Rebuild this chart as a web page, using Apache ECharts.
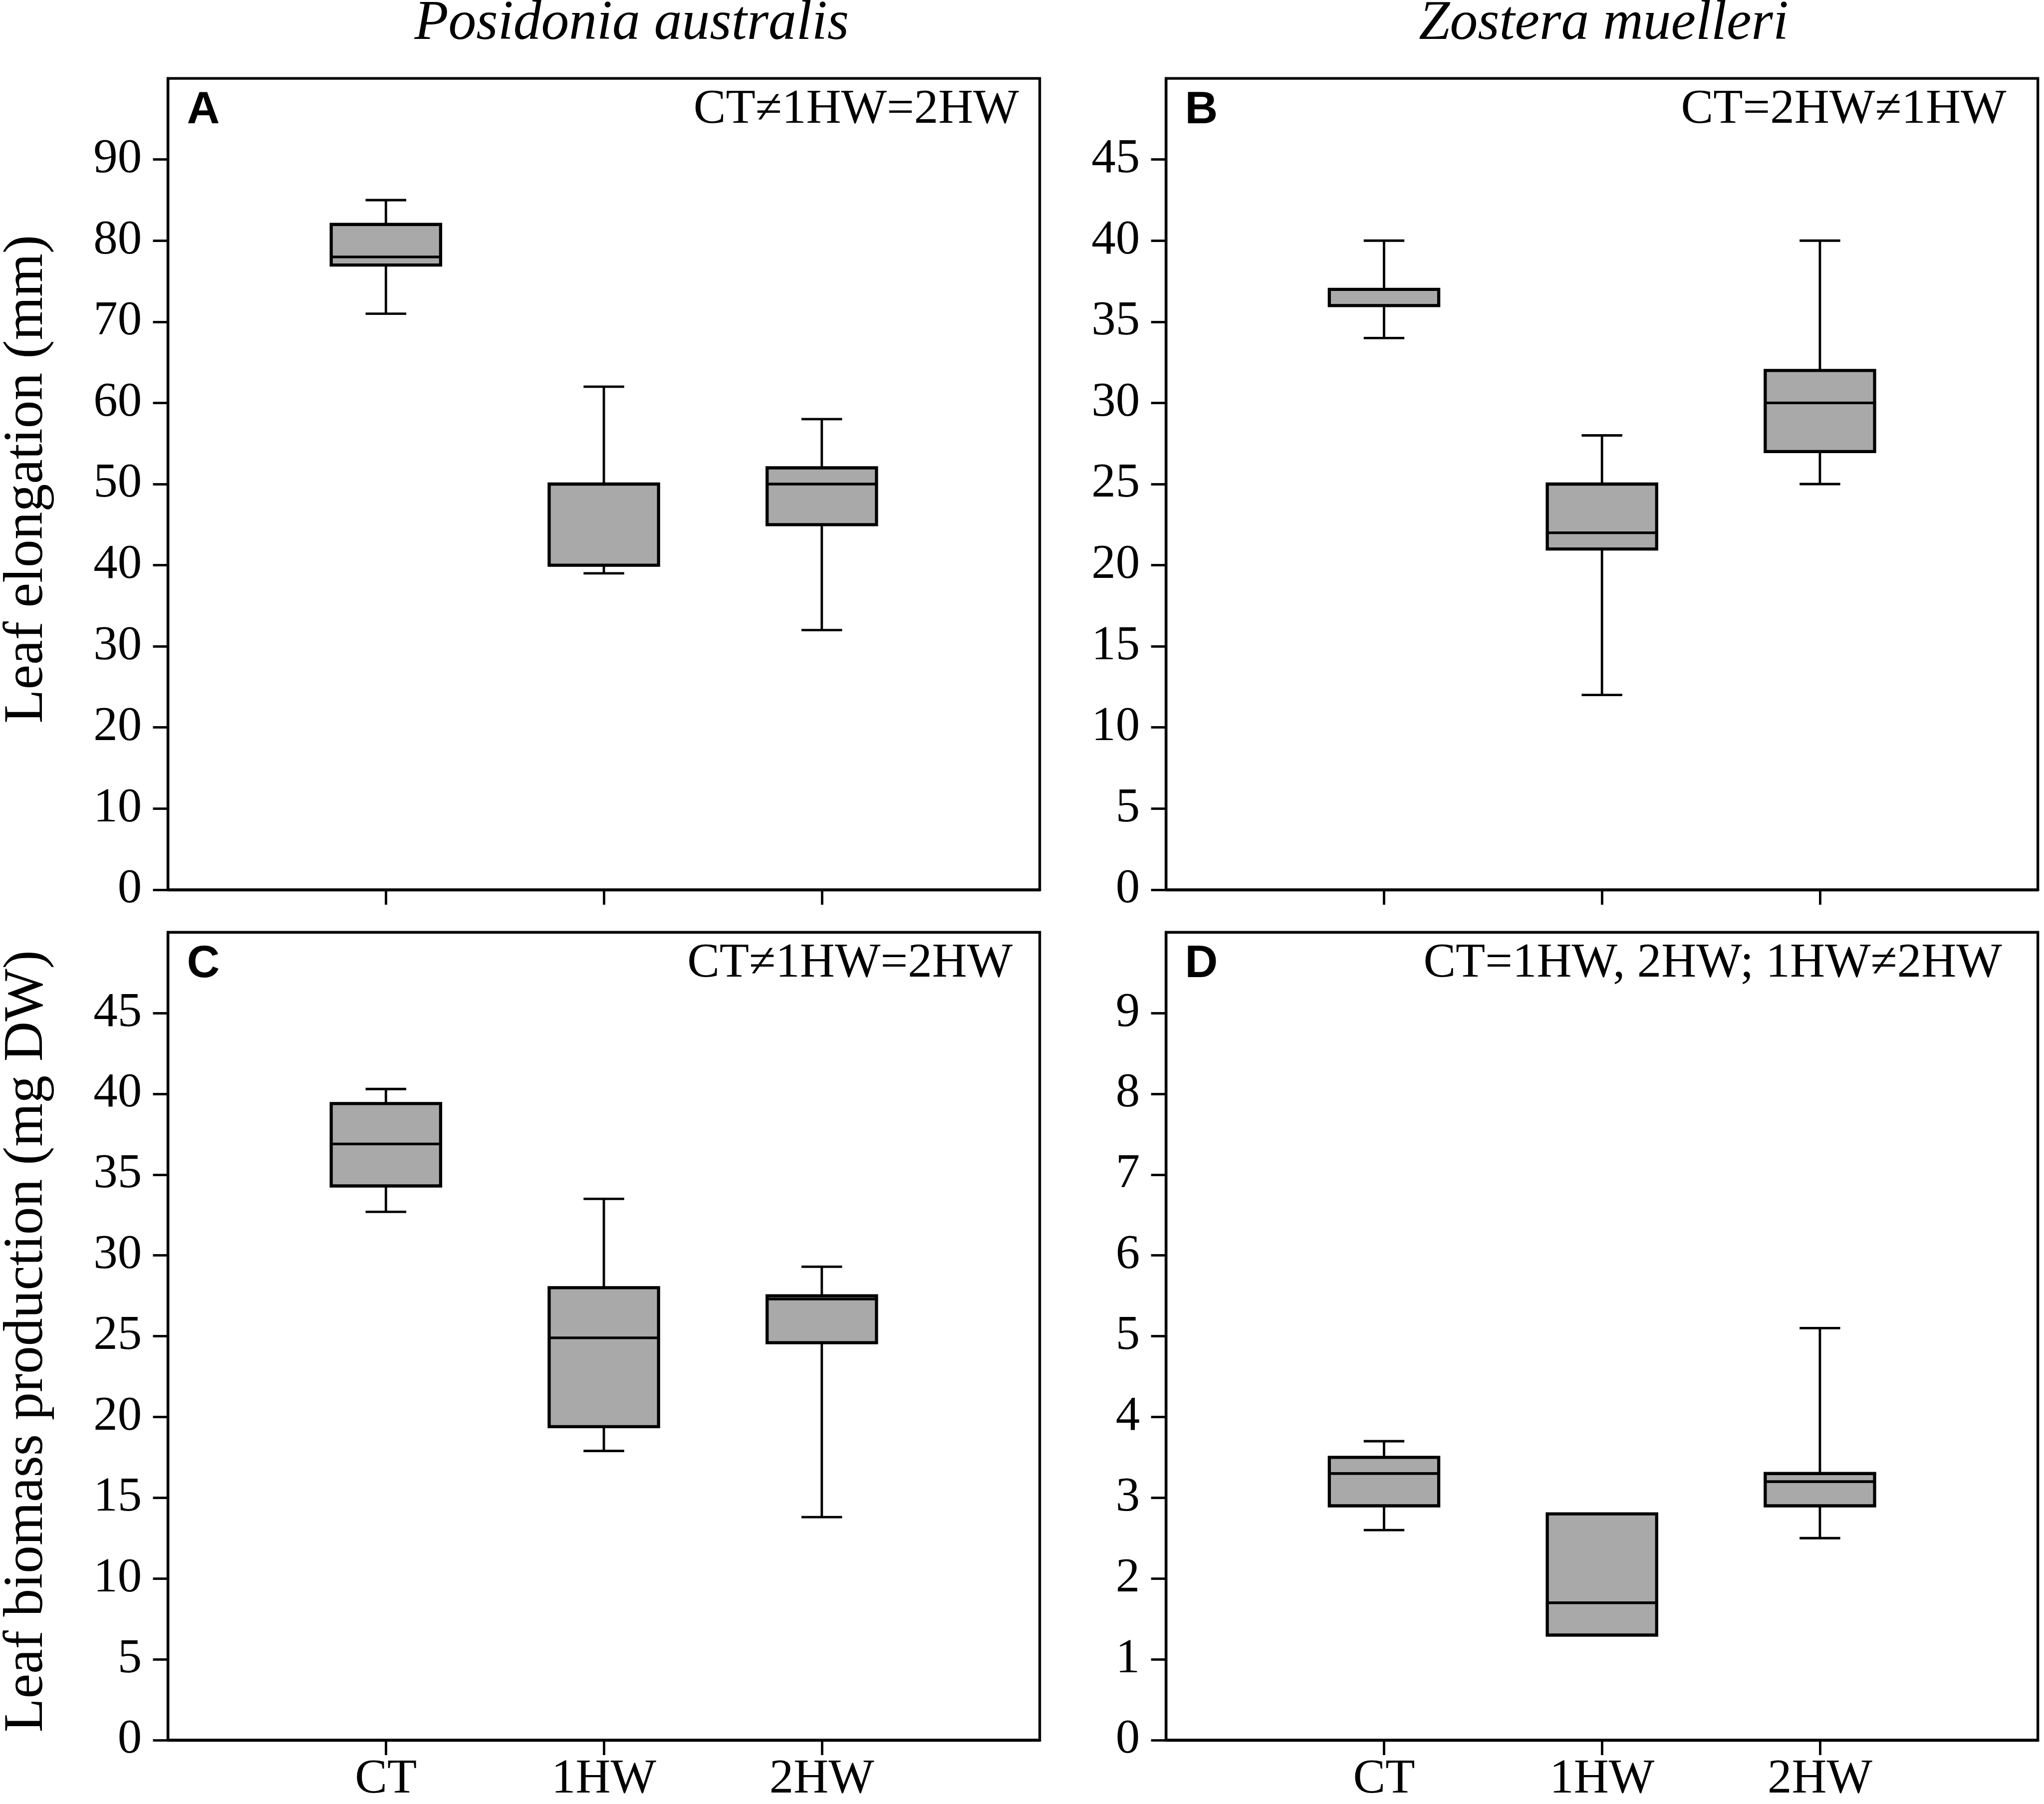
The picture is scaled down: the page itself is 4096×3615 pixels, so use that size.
<!DOCTYPE html>
<html>
<head>
<meta charset="utf-8">
<script src="https://cdn.jsdelivr.net/npm/echarts@6/dist/echarts.min.js"></script>
<style>
html,body{margin:0;padding:0;background:#fff;}
#chart{width:4096px;height:3615px;}
</style>
</head>
<body>
<div id="chart"></div>
<script>
// ---- data ----
const categories = ['CT', '1HW', '2HW'];
// [min, Q1, median, Q3, max]
const elongPosidonia = [[71, 77, 78, 82, 85], [39, 40, 40, 50, 62], [32, 45, 50, 52, 58]];
const elongZostera = [[34, 36, 36, 37, 40], [12, 21, 22, 25, 28], [25, 27, 30, 32, 40]];
const biomassPosidonia = [[32.7, 34.3, 36.9, 39.4, 40.3], [17.9, 19.4, 24.9, 28.0, 33.5], [13.8, 24.6, 27.3, 27.5, 29.3]];
const biomassZostera = [[2.6, 2.9, 3.3, 3.5, 3.7], [1.3, 1.3, 1.7, 2.8, 2.8], [2.5, 2.9, 3.2, 3.3, 5.1]];
const yTicksA = [0, 10, 20, 30, 40, 50, 60, 70, 80, 90];
const yTicksB = [0, 5, 10, 15, 20, 25, 30, 35, 40, 45];
const yTicksC = [0, 5, 10, 15, 20, 25, 30, 35, 40, 45];
const yTicksD = [0, 1, 2, 3, 4, 5, 6, 7, 8, 9];
const yMax = [100, 50, 50, 10];
const panelLetters = ['A', 'B', 'C', 'D'];
const annotations = ['CT\u22601HW=2HW', 'CT=2HW\u22601HW', 'CT\u22601HW=2HW', 'CT=1HW, 2HW; 1HW\u22602HW'];
const speciesTitles = ['Posidonia australis', 'Zostera muelleri'];
const yAxisTitles = ['Leaf elongation (mm)', 'Leaf biomass production (mg DW)'];

// ---- layout ----
const S = 0.97;
const serif = "'Liberation Serif', 'Times New Roman', serif";
const sans = "'Liberation Sans', Arial, sans-serif";
const gridW = 1801 * S, gridH = 1676 * S;
const lefts = [347 * S, 2409 * S, 347 * S, 2409 * S];
const tops = [162 * S, 162 * S, 1926 * S, 1926 * S];
const annRightMargin = [43 * S, 65 * S, 56 * S, 74 * S];
const tickFs = 100 * S;
const boxW = 226 * S, capW = 84 * S;

const axisCats = [''].concat(categories, ['']);
const panels = [
  {vals: elongPosidonia, ticks: yTicksA},
  {vals: elongZostera, ticks: yTicksB},
  {vals: biomassPosidonia, ticks: yTicksC},
  {vals: biomassZostera, ticks: yTicksD}
];

function renderBox(params, api) {
  const x = api.value(0);
  const pMin = api.coord([x, api.value(1)]);
  const pQ1 = api.coord([x, api.value(2)]);
  const pMed = api.coord([x, api.value(3)]);
  const pQ3 = api.coord([x, api.value(4)]);
  const pMax = api.coord([x, api.value(5)]);
  const cx = pMin[0];
  const ls = {stroke: '#000', lineWidth: 5 * S};
  return {
    type: 'group',
    children: [
      {type: 'line', shape: {x1: cx, y1: pMax[1], x2: cx, y2: pQ3[1]}, style: ls},
      {type: 'line', shape: {x1: cx, y1: pQ1[1], x2: cx, y2: pMin[1]}, style: ls},
      {type: 'line', shape: {x1: cx - capW / 2, y1: pMax[1], x2: cx + capW / 2, y2: pMax[1]}, style: ls},
      {type: 'line', shape: {x1: cx - capW / 2, y1: pMin[1], x2: cx + capW / 2, y2: pMin[1]}, style: ls},
      {type: 'rect', shape: {x: cx - boxW / 2, y: pQ3[1], width: boxW, height: pQ1[1] - pQ3[1]},
        style: {fill: '#a9a9a9', stroke: '#000', lineWidth: 6.5 * S}},
      {type: 'line', shape: {x1: cx - boxW / 2, y1: pMed[1], x2: cx + boxW / 2, y2: pMed[1]}, style: {stroke: '#000', lineWidth: 5.5 * S}}
    ]
  };
}

const grid = [], xAxis = [], yAxis = [], series = [], graphic = [];
panels.forEach((p, i) => {
  grid.push({left: lefts[i], top: tops[i], width: gridW, height: gridH,
    show: true, borderColor: '#000', borderWidth: 5.5 * S, backgroundColor: 'transparent', containLabel: false});
  const showCatLabel = i >= 2;
  xAxis.push({
    type: 'category', gridIndex: i, data: axisCats, boundaryGap: false,
    axisLine: {show: true, lineStyle: {color: '#000', width: 5.5 * S}},
    axisTick: {show: true, length: 31 * S, lineStyle: {color: '#000', width: 5 * S},
      interval: function (idx, val) { return val !== ''; }},
    axisLabel: {show: showCatLabel, interval: function (idx, val) { return val !== ''; },
      fontFamily: serif, fontSize: tickFs, color: '#000', margin: 32 * S},
    splitLine: {show: false}
  });
  yAxis.push({
    type: 'value', gridIndex: i, min: 0, max: yMax[i],
    axisLine: {show: true, lineStyle: {color: '#000', width: 5.5 * S}},
    axisTick: {show: true, length: 31 * S, lineStyle: {color: '#000', width: 5 * S}, customValues: p.ticks},
    axisLabel: {show: true, customValues: p.ticks, fontFamily: serif, fontSize: tickFs, color: '#000', margin: 54 * S},
    splitLine: {show: false}
  });
  series.push({
    type: 'custom', xAxisIndex: i, yAxisIndex: i,
    renderItem: renderBox,
    encode: {x: 0, y: [1, 2, 3, 4, 5]},
    data: categories.map((c, k) => [c].concat(p.vals[k])),
    z: 5
  });
  // panel letter
  const letterFs = 94 * S;
  graphic.push({type: 'text', x: lefts[i] + 39 * S, y: tops[i] + 99 * S - 0.3465 * letterFs,
    style: {text: panelLetters[i], font: 'bold ' + letterFs + 'px ' + sans, fill: '#000', align: 'left', verticalAlign: 'middle'}});
  // annotation
  const annFs = 100 * S;
  graphic.push({type: 'text', x: lefts[i] + gridW - annRightMargin[i], y: tops[i] + 99 * S - 0.3375 * annFs,
    style: {text: annotations[i], font: annFs + 'px ' + serif, fill: '#000', align: 'right', verticalAlign: 'middle'}});
});

const titleFs = 115 * S;
graphic.push({type: 'text', x: 1305 * S, y: 89 * S - 0.3375 * titleFs,
  style: {text: speciesTitles[0], font: 'italic ' + titleFs + 'px ' + serif, fill: '#000', align: 'center', verticalAlign: 'middle'}});
graphic.push({type: 'text', x: 3313 * S, y: 89 * S - 0.3375 * titleFs,
  style: {text: speciesTitles[1], font: 'italic ' + titleFs + 'px ' + serif, fill: '#000', align: 'center', verticalAlign: 'middle'}});
graphic.push({type: 'text', x: 56 * S, y: 990 * S, rotation: Math.PI / 2,
  style: {text: yAxisTitles[0], font: titleFs + 'px ' + serif, fill: '#000', align: 'center', verticalAlign: 'middle'}});
graphic.push({type: 'text', x: 56 * S, y: 2771 * S, rotation: Math.PI / 2,
  style: {text: yAxisTitles[1], font: titleFs + 'px ' + serif, fill: '#000', align: 'center', verticalAlign: 'middle'}});

const chart = echarts.init(document.getElementById('chart'), null, {renderer: 'canvas'});
chart.setOption({
  animation: false,
  backgroundColor: '#fff',
  grid: grid, xAxis: xAxis, yAxis: yAxis, series: series, graphic: graphic
});
</script>
</body>
</html>
